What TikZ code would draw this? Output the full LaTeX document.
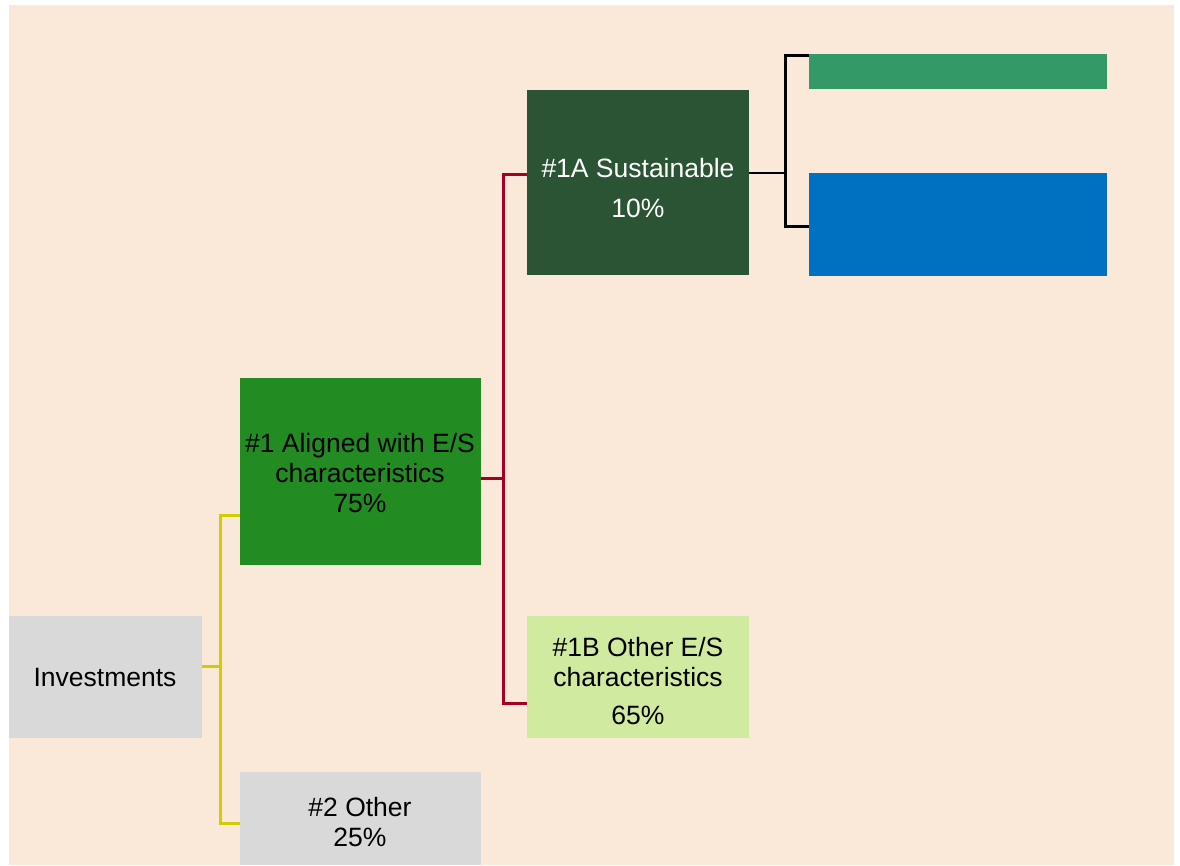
\documentclass[tikz,border=0pt]{standalone}
\usepackage{fontspec}
\setmainfont{Liberation Sans}
\definecolor{peach}{HTML}{FAE8D8}
\definecolor{lgray}{HTML}{D9D9D9}
\definecolor{ygreen}{HTML}{228B22}
\definecolor{dgreen}{HTML}{2B5434}
\definecolor{lgreen}{HTML}{D0EBA0}
\definecolor{mgreen}{HTML}{339966}
\definecolor{oblue}{HTML}{0070C0}
\definecolor{yline}{HTML}{D4CC00}
\definecolor{rline}{HTML}{A50021}
\tikzset{
  x=1pt,y=-1pt,
  boxnode/.style={draw=none,inner sep=0pt,outer sep=0pt,rectangle},
  txt/.style={font=\fontsize{26.5}{30}\selectfont,align=center,inner sep=0pt},
  yconn/.style={draw=yline,line width=3pt},
  rconn/.style={draw=rline,line width=3pt},
  kconn/.style={draw=black,line width=3pt},
  kthin/.style={draw=black,line width=1.3pt},
}
\begin{document}
\begin{tikzpicture}
\useasboundingbox (0,0) rectangle (1180,865);
\fill[peach] (9,5) rectangle (1174,865);
% boxes
\node[boxnode,fill=lgray,minimum width=193pt,minimum height=122pt,anchor=north west] (inv) at (9,616) {};
\node[boxnode,fill=ygreen,minimum width=241pt,minimum height=187pt,anchor=north west] (al) at (240,378) {};
\node[boxnode,fill=lgray,minimum width=241pt,minimum height=93pt,anchor=north west] (oth) at (240,772) {};
\node[boxnode,fill=dgreen,minimum width=222pt,minimum height=185pt,anchor=north west] (sus) at (527,90) {};
\node[boxnode,fill=lgreen,minimum width=222pt,minimum height=122pt,anchor=north west] (ob) at (527,616) {};
\node[boxnode,fill=mgreen,minimum width=298pt,minimum height=35pt,anchor=north west] (env) at (809,54) {};
\node[boxnode,fill=oblue,minimum width=298pt,minimum height=103pt,anchor=north west] (soc) at (809,173) {};
% texts
\node[txt] (tinv) at (105,678) {Investments};
\node[txt] (tal) at (360,473) {\#1 Aligned with E/S\\characteristics\\75\%};
\node[txt] (toth) at (360,822) {\#2 Other\\25\%};
\node[txt,white] (tsus) at (638,188) {\#1A Sustainable\\[10pt]10\%};
\node[txt] (tob) at (638,681) {\#1B Other E/S\\characteristics\\[8pt]65\%};
% connectors
\coordinate (yj) at (220,666);
\draw[yconn] (inv.east |- yj) -- (yj);
\draw[yconn] (al.west |- 0,515) -| (220,823) -- (oth.west |- 0,823);
\coordinate (rj) at (503,478);
\draw[rconn] (al.east |- rj) -- (rj);
\draw[rconn] (sus.west |- 0,174) -| (503,703) -- (ob.west |- 0,703);
\coordinate (kj) at (785,173);
\draw[kthin] (sus.east |- kj) -- (kj);
\draw[kconn] (env.west |- 0,55) -| (785,226) -- (soc.west |- 0,226);
\end{tikzpicture}
\end{document}
